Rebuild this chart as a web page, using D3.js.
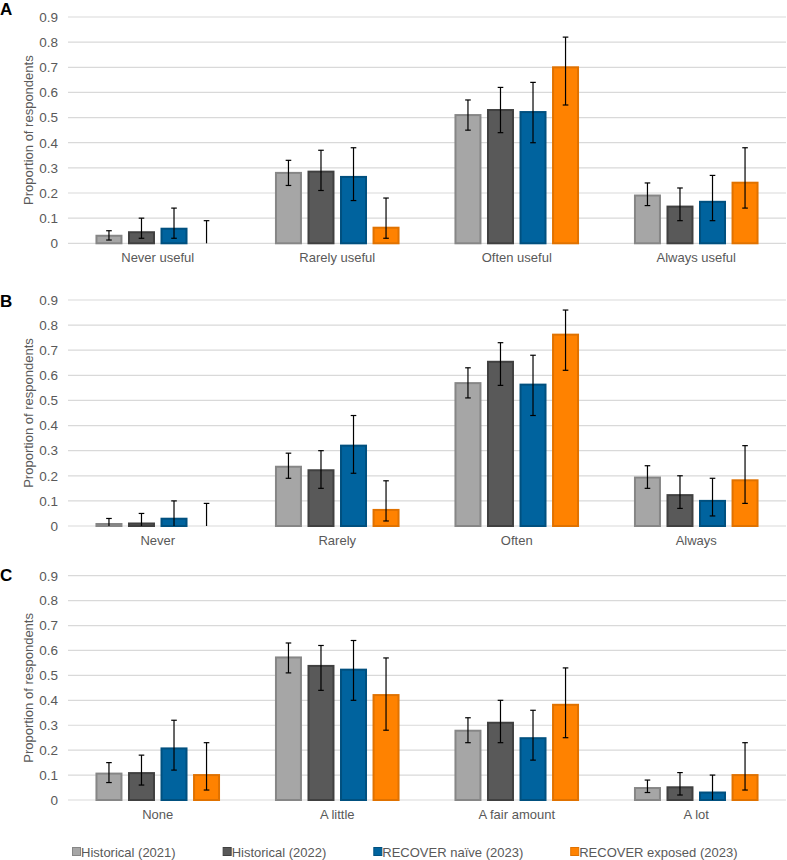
<!DOCTYPE html>
<html>
<head>
<meta charset="utf-8">
<script src="https://cdn.jsdelivr.net/npm/d3@7"></script>
<style>
  body { margin: 0; background: #fff; }
  svg { font-family: "Liberation Sans", Arial, sans-serif; }
</style>
</head>
<body>
<svg id="chart" width="787" height="860"></svg>
<script>
const seriesNames = ["Historical (2021)", "Historical (2022)", "RECOVER naïve (2023)", "RECOVER exposed (2023)"]
const fills   = ["#a6a6a6", "#595959", "#00639e", "#ff8200"]
const strokes = ["#868686", "#404040", "#00507f", "#e07200"]
const yTicks = [0, 0.1, 0.2, 0.3, 0.4, 0.5, 0.6, 0.7, 0.8, 0.9]

// panel A
const catsA = ["Never useful", "Rarely useful", "Often useful", "Always useful"]
const valsA = [[0.03, 0.044, 0.058, 0], [0.28, 0.285, 0.264, 0.062], [0.51, 0.53, 0.522, 0.70], [0.19, 0.146, 0.165, 0.241]]
const lowA  = [[0.013, 0.02, 0.02, 0], [0.23, 0.21, 0.17, 0.02], [0.45, 0.44, 0.40, 0.55], [0.15, 0.09, 0.09, 0.14]]
const highA = [[0.05, 0.10, 0.14, 0.09], [0.33, 0.37, 0.38, 0.18], [0.57, 0.62, 0.64, 0.82], [0.24, 0.22, 0.27, 0.38]]

// panel B
const catsB = ["Never", "Rarely", "Often", "Always"]
const valsB = [[0.008, 0.01, 0.029, 0], [0.236, 0.222, 0.32, 0.064], [0.569, 0.654, 0.563, 0.762], [0.193, 0.123, 0.10, 0.182]]
const lowB  = [[0, 0, 0, 0], [0.19, 0.15, 0.21, 0.02], [0.51, 0.56, 0.44, 0.62], [0.15, 0.07, 0.04, 0.09]]
const highB = [[0.03, 0.05, 0.10, 0.09], [0.29, 0.30, 0.44, 0.18], [0.63, 0.73, 0.68, 0.86], [0.24, 0.20, 0.19, 0.32]]

// panel C
const catsC = ["None", "A little", "A fair amount", "A lot"]
const valsC = [[0.106, 0.108, 0.207, 0.10], [0.572, 0.538, 0.523, 0.421], [0.278, 0.31, 0.248, 0.382], [0.048, 0.051, 0.03, 0.10]]
const lowC  = [[0.07, 0.06, 0.12, 0.04], [0.51, 0.44, 0.40, 0.28], [0.23, 0.23, 0.16, 0.25], [0.03, 0.02, 0, 0.04]]
const highC = [[0.15, 0.18, 0.32, 0.23], [0.63, 0.62, 0.64, 0.57], [0.33, 0.40, 0.36, 0.53], [0.08, 0.11, 0.10, 0.23]]

const panels = [
  {letter: "A", cats: catsA, vals: valsA, low: lowA, high: highA, top: 17, bottom: 243.3, letterY: 15},
  {letter: "B", cats: catsB, vals: valsB, low: lowB, high: highB, top: 300, bottom: 526, letterY: 306.5},
  {letter: "C", cats: catsC, vals: valsC, low: lowC, high: highC, top: 575.7, bottom: 800, letterY: 581}
]

const svg = d3.select("#chart")
const plotLeft = 68, plotRight = 786
const textColor = "#595959"

const drawPanel = (p) => {
  const g = svg.append("g")
  const y = d3.scaleLinear().domain([0, 0.9]).range([p.bottom, p.top])
  const x0 = d3.scaleBand().domain(p.cats).range([plotLeft, plotRight])
      .paddingInner(0.306).paddingOuter(0.153)
  const x1 = d3.scaleBand().domain(d3.range(seriesNames.length)).range([0, x0.bandwidth()])
      .paddingInner(0.17)

  // gridlines
  g.selectAll("line.grid").data(yTicks).join("line")
      .attr("class", "grid")
      .attr("x1", plotLeft).attr("x2", plotRight)
      .attr("y1", d => y(d)).attr("y2", d => y(d))
      .attr("stroke", "#d9d9d9").attr("stroke-width", 1.2)

  // y axis labels
  const yAxis = g.append("g").attr("transform", `translate(${plotLeft - 10},0)`)
      .call(d3.axisLeft(y).tickValues(yTicks).tickSize(0).tickPadding(0)
          .tickFormat(d => d === 0 ? "0" : d3.format(".1f")(d)))
  yAxis.select(".domain").remove()
  yAxis.selectAll("text").attr("fill", textColor).style("font-size", "13.5px")

  // x category labels
  g.selectAll("text.cat").data(p.cats).join("text")
      .attr("class", "cat")
      .attr("x", d => x0(d) + x0.bandwidth() / 2)
      .attr("y", p.bottom + 18.5)
      .attr("text-anchor", "middle")
      .attr("fill", textColor)
      .style("font-size", "13px")
      .text(d => d)

  // y title
  g.append("text")
      .attr("transform", `translate(33,${(p.top + p.bottom) / 2}) rotate(-90)`)
      .attr("text-anchor", "middle")
      .attr("fill", textColor)
      .style("font-size", "13px")
      .text("Proportion of respondents")

  // panel letter
  g.append("text").attr("x", 0).attr("y", p.letterY)
      .style("font-size", "17px").style("font-weight", "bold")
      .attr("fill", "#000").text(p.letter)

  const groups = g.selectAll("g.cat-group").data(p.cats).join("g")
      .attr("class", "cat-group")
      .attr("transform", d => `translate(${x0(d)},0)`)

  groups.each(function (cat, ci) {
    const grp = d3.select(this)
    const rows = p.vals[ci].map((v, si) => ({si, v, lo: p.low[ci][si], hi: p.high[ci][si]}))

    grp.selectAll("rect").data(rows.filter(d => d.v > 0)).join("rect")
        .attr("x", d => x1(d.si) + 1)
        .attr("width", x1.bandwidth() - 2)
        .attr("y", d => y(d.v))
        .attr("height", d => y(0) - y(d.v))
        .attr("fill", d => fills[d.si])
        .attr("stroke", d => strokes[d.si])
        .attr("stroke-width", 2)

    const cx = d => x1(d.si) + x1.bandwidth() / 2
    grp.selectAll("line.err").data(rows).join("line")
        .attr("class", "err")
        .attr("x1", cx).attr("x2", cx)
        .attr("y1", d => y(d.lo)).attr("y2", d => y(d.hi))
        .attr("stroke", "#000").attr("stroke-width", 1.2)
    grp.selectAll("line.cap-hi").data(rows).join("line")
        .attr("class", "cap-hi")
        .attr("x1", d => cx(d) - 2.8).attr("x2", d => cx(d) + 2.8)
        .attr("y1", d => y(d.hi)).attr("y2", d => y(d.hi))
        .attr("stroke", "#000").attr("stroke-width", 1.2)
    grp.selectAll("line.cap-lo").data(rows.filter(d => d.lo > 0)).join("line")
        .attr("class", "cap-lo")
        .attr("x1", d => cx(d) - 2.8).attr("x2", d => cx(d) + 2.8)
        .attr("y1", d => y(d.lo)).attr("y2", d => y(d.lo))
        .attr("stroke", "#000").attr("stroke-width", 1.2)
  })
}

panels.forEach(drawPanel)

// legend
const legend = svg.append("g").attr("transform", "translate(0,852)")
let lx = 72
seriesNames.forEach((name, i) => {
  const item = legend.append("g").attr("transform", `translate(${lx},0)`)
  item.append("rect").attr("x", 0.5).attr("y", -4.5).attr("width", 8).attr("height", 8)
      .attr("fill", fills[i]).attr("stroke", strokes[i]).attr("stroke-width", 1)
  const t = item.append("text").attr("x", 9).attr("y", 4.5)
      .attr("fill", textColor).style("font-size", "13px").text(name)
  lx += 9 + t.node().getComputedTextLength() + 47
})
</script>
</body>
</html>
